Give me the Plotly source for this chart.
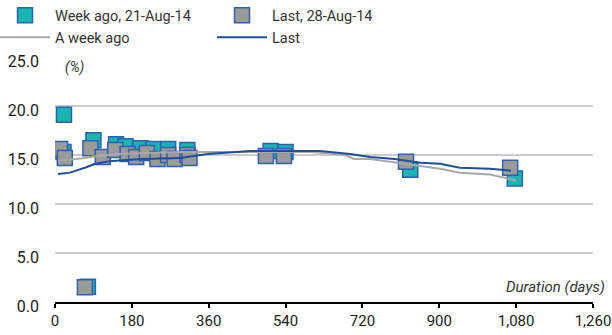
import plotly.graph_objects as go

# --- data ---
week_ago_days = [21, 20, 77, 90, 143, 165, 200, 230, 265, 310, 505, 540, 832, 1077]
week_ago_vals = [19.1, 15.3, 1.55, 16.5, 16.1, 15.9, 15.7, 15.6, 15.6, 15.5, 15.4, 15.3, 13.5, 12.6]

last_days = [12, 23, 70, 83, 112, 141, 170, 190, 215, 240, 265, 280, 310, 315, 494, 536, 822, 1066]
last_vals = [15.6, 14.7, 1.5, 15.7, 14.8, 15.5, 15.1, 14.8, 15.2, 14.6, 15.0, 14.6, 15.0, 14.7, 14.9, 14.9, 14.3, 13.7]

curve_week_days = [7, 35, 70, 100, 150, 210, 300, 457, 600, 680, 700, 738, 800, 855, 902, 948, 1019, 1050, 1080]
curve_week_vals = [14.4, 14.5, 14.7, 14.9, 15.1, 15.2, 15.3, 15.3, 15.3, 15.0, 14.6, 14.6, 14.2, 13.9, 13.6, 13.2, 13.0, 12.7, 12.4]

curve_last_days = [7, 35, 70, 94, 133, 204, 293, 358, 457, 621, 691, 738, 796, 855, 902, 948, 1019, 1068]
curve_last_vals = [13.06, 13.2, 13.7, 14.1, 14.4, 14.6, 14.7, 15.1, 15.4, 15.4, 15.1, 14.8, 14.6, 14.2, 14.1, 13.7, 13.6, 13.4]

x_ticks = [0, 180, 360, 540, 720, 900, 1080, 1260]
y_ticks = [0, 5, 10, 15, 20, 25]

FONT = "Roboto, Liberation Sans, sans-serif"
TEAL = "#19b5b5"
GREYM = "#9a9a9a"
BORDER = "#2f62ad"
BLUE = "#1c4f9c"
GLINE = "#a8a8a8"

fig = go.Figure()
fig.add_trace(go.Scatter(
    x=week_ago_days, y=week_ago_vals, mode="markers", name="Week ago, 21-Aug-14",
    marker=dict(symbol="square", size=15, color=TEAL, line=dict(color=BORDER, width=1.5))))
fig.add_trace(go.Scatter(
    x=last_days, y=last_vals, mode="markers", name="Last, 28-Aug-14",
    marker=dict(symbol="square", size=15, color=GREYM, line=dict(color=BORDER, width=1.5))))
fig.add_trace(go.Scatter(
    x=curve_week_days, y=curve_week_vals, mode="lines", name="A week ago",
    line=dict(color=GLINE, width=2)))
fig.add_trace(go.Scatter(
    x=curve_last_days, y=curve_last_vals, mode="lines", name="Last",
    line=dict(color=BLUE, width=2)))

fig.update_layout(
    width=612, height=335,
    margin=dict(l=55, r=19, t=57, b=33, autoexpand=False),
    paper_bgcolor="white", plot_bgcolor="white",
    font=dict(family=FONT, size=15, color="#333333"),
    showlegend=True,
    legend=dict(
        orientation="h", xref="paper", yref="paper",
        x=-0.1115, y=1.235, xanchor="left", yanchor="top",
        entrywidth=152, entrywidthmode="pixels",
        itemwidth=50, tracegroupgap=0,
        font=dict(family=FONT, size=14.5, color="#333333"),
        bgcolor="rgba(0,0,0,0)", borderwidth=0,
    ),
    xaxis=dict(
        range=[0, 1260], tickvals=x_ticks, tickformat=",d",
        showgrid=False, zeroline=False,
        showline=True, linecolor="black", linewidth=2,
        ticks="outside", ticklen=4, tickwidth=2, tickcolor="black",
        tickfont=dict(family=FONT, size=15, color="#222222"),
    ),
    yaxis=dict(
        range=[0, 25], tickvals=y_ticks, tickformat=".1f",
        showgrid=True, gridcolor="#cccccc", gridwidth=2,
        zeroline=False, showline=False, ticks="",
        ticklabelstandoff=15, ticklabelshift=4,
        tickfont=dict(family=FONT, size=16, color="#222222"),
    ),
    annotations=[
        dict(text="<i>(%)</i>", xref="paper", yref="paper", x=0.015, y=1.0,
             xanchor="left", yanchor="top", showarrow=False,
             font=dict(family=FONT, size=14, color="#333333")),
        dict(text="<i>Duration (days)</i>", xref="paper", yref="paper", x=1.026, y=0.018,
             xanchor="right", yanchor="bottom", showarrow=False,
             font=dict(family=FONT, size=15, color="#333333")),
    ],
)

fig.write_html("out.html", config={"displayModeBar": False},
               post_script="document.body.style.margin='0px';document.body.style.overflow='hidden';")
